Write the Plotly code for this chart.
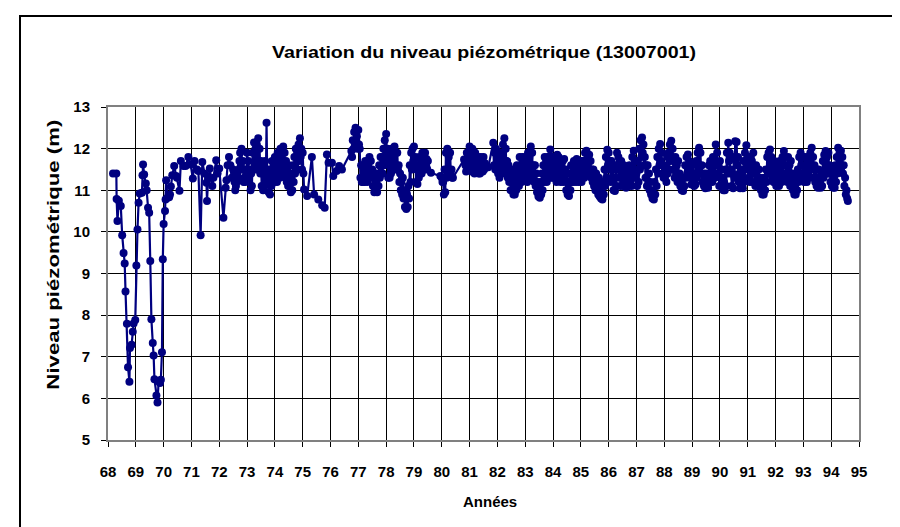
import plotly.graph_objects as go

# ---- Data -------------------------------------------------------------
# Early, sparse measurements (decimal year, level in m)
early_years = [68.18, 68.30, 68.31, 68.34, 68.39, 68.46, 68.51, 68.56, 68.60, 68.63,
               68.68, 68.72, 68.77, 68.79, 68.85, 68.89, 68.92, 68.98, 69.02, 69.06,
               69.10, 69.14, 69.22, 69.24, 69.26, 69.30, 69.36, 69.39, 69.44, 69.48,
               69.52, 69.56, 69.61, 69.64, 69.67, 69.74, 69.78, 69.82, 69.87, 69.90,
               69.94, 69.97, 70.00, 70.05, 70.07, 70.09, 70.14, 70.20, 70.23, 70.26,
               70.31, 70.38, 70.45, 70.48, 70.57, 70.62, 70.71, 70.79, 70.89, 70.97,
               71.05, 71.11, 71.20, 71.25, 71.33, 71.39, 71.46, 71.54, 71.56, 71.60,
               71.66, 71.75, 71.79, 71.89, 71.94, 72.00, 72.15, 72.23, 72.26]
early_levels = [11.40, 11.40, 10.79, 10.26, 10.75, 10.62, 9.92, 9.49, 9.24, 8.57,
                7.79, 6.75, 6.40, 7.21, 7.29, 7.60, 7.80, 7.88, 9.19, 10.06,
                10.70, 10.92, 10.94, 11.36, 11.62, 11.38, 11.16, 11.00, 10.58, 10.46,
                9.30, 7.90, 7.33, 7.03, 6.46, 6.07, 5.90, 6.41, 6.37, 6.45,
                7.11, 9.34, 10.19, 10.50, 10.78, 11.24, 10.82, 10.83, 10.90, 11.09,
                11.36, 11.58, 11.34, 11.30, 10.99, 11.70, 11.58, 11.58, 11.80, 11.62,
                11.28, 11.70, 11.50, 11.46, 9.92, 11.68, 11.40, 11.18, 10.74, 11.28,
                11.52, 11.10, 11.30, 11.72, 11.40, 11.52, 10.34, 11.06, 11.24]

# Sparse measurements between the dense periods
gap_years = [75.16, 75.33, 75.41, 75.56, 75.70, 75.79, 75.87, 75.93, 76.05, 76.10,
             76.22, 76.31, 76.41, 79.61, 79.95, 80.80, 81.67]
gap_levels = [10.86, 11.80, 10.90, 10.78, 10.64, 10.58, 11.86, 11.66, 11.66, 11.34,
              11.46, 11.58, 11.50, 11.42, 11.34, 11.74, 11.55]

# Dense periods: two readings every 1/20 year.
# "upper" readings at x.000, x.050, ...; "lower" readings at x.025, x.075, ...
N = None
upper_by_year = {
    72: [N, N, N, N, N, N, 11.6, 11.8, 11.6, 11.3, 11.5, 11.2, 11.1, 11.4, 11.5, 11.9, 12.0, 11.7, 11.3, 11.5],
    73: [11.9, 11.7, 11.5, 11.4, 11.9, 12.15, 12.0, 12.1, 12.25, 12.0, 11.7, 11.5, 11.6, 11.7, 12.62, 11.5, 11.3, 11.4, 11.7, 11.6],
    74: [11.8, 11.7, 11.9, 11.8, 12.0, 11.9, 12.05, 11.9, 11.7, 11.5, 11.6, 11.4, 11.3, 11.6, 11.8, 12.0, 11.9, 12.1, 12.25, 12.0],
    75: [11.9, 11.02, N, N, N, N, N, N, N, N, N, N, N, N, N, N, N, N, N, N],
    76: [N, N, N, N, N, N, N, N, N, N, N, N, N, N, N, 11.94, 12.2, 12.4, 12.5, 12.3],
    77: [12.45, 12.0, 11.6, 11.6, 11.5, 11.7, 11.5, 11.6, 11.8, 11.7, 11.5, 11.3, 11.4, 11.2, 11.4, 11.6, 11.8, 11.8, 12.0, 12.2],
    78: [12.35, 12.0, 11.7, 11.8, 12.0, 11.9, 12.05, 11.9, 11.9, 11.6, 11.4, 11.2, 11.3, 11.0, 10.8, 10.9, 11.1, 11.6, 11.9, 12.0],
    79: [12.05, 11.8, 11.5, 11.6, 11.8, 11.7, 11.9, 11.8, 11.9, 11.75, 11.7, N, N, N, N, N, N, N, N, N],
    80: [11.3, 11.2, 11.5, 11.9, 12.0, 11.8, 11.9, 11.5, 11.3, N, N, N, N, N, N, N, N, 11.6, 11.9, 11.8],
    81: [12.05, 11.9, 12.0, 11.8, 11.9, 11.8, 11.8, 11.7, 11.8, 11.7, 11.8, 11.65, N, N, N, N, N, 12.14, 11.9, 12.0],
    82: [11.8, 11.7, 11.9, 11.8, 12.1, 12.25, 12.0, 11.7, 11.6, 11.4, 11.5, 11.3, 11.2, 11.4, 11.6, 11.5, 11.8, 11.6, 11.8, 11.7],
    83: [11.8, 11.7, 11.9, 11.8, 12.05, 11.9, 11.6, 11.6, 11.4, 11.2, 11.1, 11.2, 11.4, 11.6, 11.8, 11.7, 11.8, 11.8, 11.98, 11.8],
    84: [11.8, 11.8, 11.7, 11.85, 11.8, 11.6, 11.7, 11.7, 11.75, 11.5, 11.2, 11.2, 11.4, 11.6, 11.6, 11.7, 11.6, 11.75, 11.6, 11.7],
    85: [11.6, 11.7, 11.7, 11.9, 11.95, 11.8, 11.85, 11.7, 11.5, 11.5, 11.4, 11.4, 11.2, 11.3, 11.1, 11.0, 11.2, 11.5, 11.8, 11.97],
    86: [11.9, 11.7, 11.7, 11.5, 11.3, 11.6, 11.9, 11.8, 11.6, 11.7, 11.5, 11.6, 11.4, 11.5, 11.4, 11.6, 11.4, 11.8, 11.95, 11.7],
    87: [11.4, 11.7, 12.0, 12.2, 12.27, 12.1, 11.8, 11.6, 11.6, 11.4, 11.2, 11.0, 10.9, 11.2, 11.5, 11.8, 12.0, 12.11, 11.9, 11.6],
    88: [11.6, 11.5, 11.8, 11.9, 12.1, 12.19, 12.0, 11.7, 11.8, 11.6, 11.7, 11.4, 11.2, 11.1, 11.3, 11.6, 11.8, 11.86, 11.7, 11.5],
    89: [11.6, 11.4, 11.3, 11.7, 11.9, 12.02, 11.9, 11.6, 11.4, 11.3, 11.4, 11.3, 11.6, 11.7, 11.6, 11.8, 11.7, 12.1, 11.9, 11.6],
    90: [11.7, 11.5, 11.3, 11.2, 11.5, 11.9, 12.14, 11.9, 11.5, 11.4, 11.8, 12.18, 12.16, 11.8, 11.4, 11.5, 11.4, 11.7, 11.9, 12.08],
    91: [11.8, 11.6, 11.8, 11.7, 11.9, 11.5, 11.6, 11.5, 11.5, 11.3, 11.2, 11.1, 11.3, 11.5, 11.8, 11.9, 11.98, 11.8, 11.6, 11.7],
    92: [11.4, 11.6, 11.5, 11.7, 11.6, 11.8, 11.94, 11.8, 11.6, 11.8, 11.6, 11.7, 11.4, 11.2, 11.1, 11.3, 11.5, 11.8, 11.9, 11.8],
    93: [11.6, 11.8, 11.6, 11.8, 11.7, 11.9, 12.02, 11.8, 11.6, 11.5, 11.3, 11.5, 11.2, 11.4, 11.7, 11.85, 11.94, 11.8, 11.9, 11.6],
    94: [11.4, 11.5, 11.3, 11.6, 11.8, 12.02, 11.9, 11.95, 11.8, 11.6, 11.3, 11.0, 10.74, N, N, N, N, N, N, N],
}
lower_by_year = {
    72: [N, N, N, N, N, N, N, N, N, N, 11.3, 11.0, 11.2, 11.3, 11.7, 11.6, 11.5, 11.2, 11.2, 11.3],
    73: [11.4, 11.2, 11.0, 11.1, 11.5, 11.6, 11.5, 11.6, 11.7, 11.4, 11.1, 11.0, 11.1, 11.2, 11.3, 10.95, 10.9, 11.1, 11.3, 11.2],
    74: [11.3, 11.2, 11.4, 11.3, 11.5, 11.4, 11.6, 11.3, 11.2, 11.1, 11.1, 10.95, 11.0, 11.2, 11.4, 11.5, 11.5, 11.7, 11.8, 11.5],
    75: [11.4, N, N, N, N, N, N, N, N, N, N, N, N, N, N, N, N, N, N, N],
    76: [N, N, N, N, N, N, N, N, N, N, N, N, N, N, N, 11.8, 12.0, 12.1, 12.2, 12.0],
    77: [12.1, 11.3, 11.2, 11.2, 11.2, 11.3, 11.2, 11.3, 11.4, 11.3, 11.1, 10.95, 11.0, 10.95, 11.1, 11.3, 11.4, 11.4, 11.6, 11.8],
    78: [11.9, 11.3, 11.3, 11.4, 11.6, 11.5, 11.6, 11.5, 11.5, 11.2, 11.0, 10.9, 10.8, 10.6, 10.55, 10.6, 10.8, 11.2, 11.5, 11.7],
    79: [11.6, 11.2, 11.15, 11.3, 11.5, 11.4, 11.6, 11.5, 11.6, 11.5, N, N, N, N, N, N, N, N, N, N],
    80: [11.2, 10.9, 10.95, 11.3, 11.5, 11.4, 11.4, 11.3, N, N, N, N, N, N, N, N, N, 11.45, 11.5, 11.5],
    81: [11.5, 11.45, 11.5, 11.4, 11.45, 11.45, 11.4, 11.4, 11.5, 11.45, 11.5, N, N, N, N, N, N, 11.6, 11.5, 11.6],
    82: [11.4, 11.3, 11.4, 11.4, 11.6, 11.7, 11.5, 11.3, 11.2, 11.0, 11.0, 10.9, 10.9, 11.0, 11.2, 11.1, 11.3, 11.2, 11.3, 11.3],
    83: [11.3, 11.2, 11.3, 11.4, 11.5, 11.3, 11.2, 11.1, 10.95, 10.85, 10.82, 10.9, 11.0, 11.2, 11.3, 11.2, 11.3, 11.3, 11.4, 11.3],
    84: [11.3, 11.4, 11.2, 11.4, 11.3, 11.2, 11.3, 11.2, 11.3, 11.0, 10.9, 10.86, 11.0, 11.2, 11.2, 11.3, 11.2, 11.3, 11.2, 11.3],
    85: [11.2, 11.3, 11.3, 11.5, 11.5, 11.4, 11.5, 11.3, 11.2, 11.1, 11.0, 11.0, 10.9, 10.85, 10.8, 10.78, 10.9, 11.1, 11.3, 11.6],
    86: [11.5, 11.2, 11.3, 11.0, 10.98, 11.1, 11.5, 11.3, 11.1, 11.3, 11.1, 11.2, 11.06, 11.2, 11.1, 11.2, 11.1, 11.3, 11.5, 11.3],
    87: [11.1, 11.2, 11.5, 11.8, 11.9, 11.6, 11.3, 11.1, 11.2, 11.0, 10.9, 10.8, 10.78, 10.9, 11.1, 11.4, 11.6, 11.7, 11.4, 11.3],
    88: [11.3, 11.2, 11.4, 11.5, 11.7, 11.8, 11.5, 11.3, 11.4, 11.2, 11.3, 11.1, 11.0, 10.98, 11.1, 11.3, 11.4, 11.5, 11.3, 11.14],
    89: [11.2, 11.1, 11.14, 11.3, 11.5, 11.6, 11.4, 11.2, 11.1, 11.05, 11.1, 11.06, 11.2, 11.3, 11.2, 11.3, 11.3, 11.6, 11.4, 11.1],
    90: [11.3, 11.1, 11.0, 11.0, 11.1, 11.4, 11.7, 11.4, 11.1, 11.05, 11.3, 11.7, 11.6, 11.2, 11.05, 11.1, 11.05, 11.2, 11.5, 11.6],
    91: [11.3, 11.2, 11.4, 11.2, 11.4, 11.1, 11.2, 11.1, 11.1, 11.0, 10.9, 10.9, 11.0, 11.2, 11.4, 11.5, 11.6, 11.3, 11.2, 11.2],
    92: [11.1, 11.2, 11.1, 11.3, 11.2, 11.4, 11.6, 11.3, 11.2, 11.3, 11.1, 11.2, 11.0, 10.9, 10.9, 11.0, 11.2, 11.4, 11.6, 11.3],
    93: [11.2, 11.3, 11.2, 11.4, 11.3, 11.5, 11.6, 11.3, 11.2, 11.1, 11.06, 11.1, 11.06, 11.1, 11.3, 11.5, 11.6, 11.4, 11.4, 11.2],
    94: [11.1, 11.06, 11.06, 11.2, 11.4, 11.6, 11.5, 11.6, 11.4, 11.1, 10.9, 10.8, N, N, N, N, N, N, N, N],
}
STEPS_PER_YEAR = 20

x_tick_values = list(range(68, 96))
y_tick_values = list(range(5, 14))

# ---- Assemble series ---------------------------------------------------
pts = list(zip(early_years, early_levels)) + list(zip(gap_years, gap_levels))
for year, vals in upper_by_year.items():
    for i, v in enumerate(vals):
        if v is not None:
            pts.append((year + i / STEPS_PER_YEAR, v))
for year, vals in lower_by_year.items():
    for i, v in enumerate(vals):
        if v is not None:
            pts.append((year + (i + 0.5) / STEPS_PER_YEAR, v))
pts.sort(key=lambda p: p[0])
xs = [p[0] for p in pts]
ys = [p[1] for p in pts]

NAVY = "#000080"
FONT = "Liberation Sans, Arial, sans-serif"

fig = go.Figure()
fig.add_trace(go.Scatter(
    x=xs, y=ys, mode="lines+markers",
    line=dict(color=NAVY, width=2.2),
    marker=dict(color=NAVY, size=8, line=dict(width=0)),
    showlegend=False, hoverinfo="x+y",
))

L, R, T, B = 100, 49, 99, 95
W, H = 900, 527
pw, ph = W - L - R, H - T - B

def px_x(p):
    return (p - L) / pw

def px_y(p):
    return (H - B - p) / ph

fig.update_layout(
    width=W, height=H, autosize=False,
    margin=dict(l=L, r=R, t=T, b=B),
    paper_bgcolor="white", plot_bgcolor="white",
    font=dict(family=FONT, size=15, color="black", weight="bold"),
    title=dict(text="Variation du niveau piézométrique (13007001)",
               x=476 / W, xanchor="center", xref="container",
               y=1 - 44 / H, yanchor="middle", yref="container",
               font=dict(family=FONT, size=17, color="black", weight="bold")),
    xaxis=dict(range=[68, 95], tickmode="array", tickvals=x_tick_values,
               ticktext=[str(v) for v in x_tick_values],
               showgrid=True, gridcolor="black", gridwidth=1,
               showline=True, linecolor="#808080", linewidth=2, mirror=True,
               ticks="outside", ticklen=5, tickcolor="black", tickwidth=1,
               ticklabelstandoff=12, zeroline=False,
               tickfont=dict(family=FONT, size=15, color="black", weight="bold")),
    yaxis=dict(range=[5, 13], tickmode="array", tickvals=y_tick_values,
               ticktext=[str(v) for v in y_tick_values],
               showgrid=True, gridcolor="black", gridwidth=1,
               showline=True, linecolor="#808080", linewidth=2, mirror=True,
               ticks="outside", ticklen=5, tickcolor="black", tickwidth=1,
               ticklabelstandoff=8, zeroline=False,
               tickfont=dict(family=FONT, size=15, color="black", weight="bold")),
    annotations=[
        dict(text="Niveau piézométrique (m)", xref="paper", yref="paper",
             x=px_x(45), y=px_y(247), textangle=-90, showarrow=False,
             xanchor="center", yanchor="middle",
             font=dict(family=FONT, size=16, color="black", weight="bold")),
        dict(text="Années", xref="paper", yref="paper",
             x=px_x(482), y=px_y(493), showarrow=False,
             xanchor="center", yanchor="middle",
             font=dict(family=FONT, size=15, color="black", weight="bold")),
    ],
    shapes=[
        dict(type="rect", xref="paper", yref="paper",
             x0=px_x(12), x1=px_x(893), y0=px_y(540), y1=px_y(8),
             line=dict(color="black", width=2), fillcolor="rgba(0,0,0,0)",
             layer="below"),
    ],
)

# The titles of the original chart are drawn with widely set letters:
# stretch the SVG text to the lengths measured on the reference.
post_script = """
(function(){
  var gd = document.getElementById('{plot_id}');
  function fit(){
    var t = gd.querySelector('.g-gtitle text.gtitle');
    if (t) { t.setAttribute('textLength', '424'); t.setAttribute('lengthAdjust', 'spacingAndGlyphs'); }
    gd.querySelectorAll('.annotation text.annotation-text').forEach(function(el){
      if (el.textContent.indexOf('Niveau') === 0) {
        el.setAttribute('textLength', '270'); el.setAttribute('lengthAdjust', 'spacingAndGlyphs');
      }
    });
  }
  fit();
  if (gd.on) { gd.on('plotly_afterplot', fit); }
})();
"""

fig.write_html("out.html", post_script=post_script)
